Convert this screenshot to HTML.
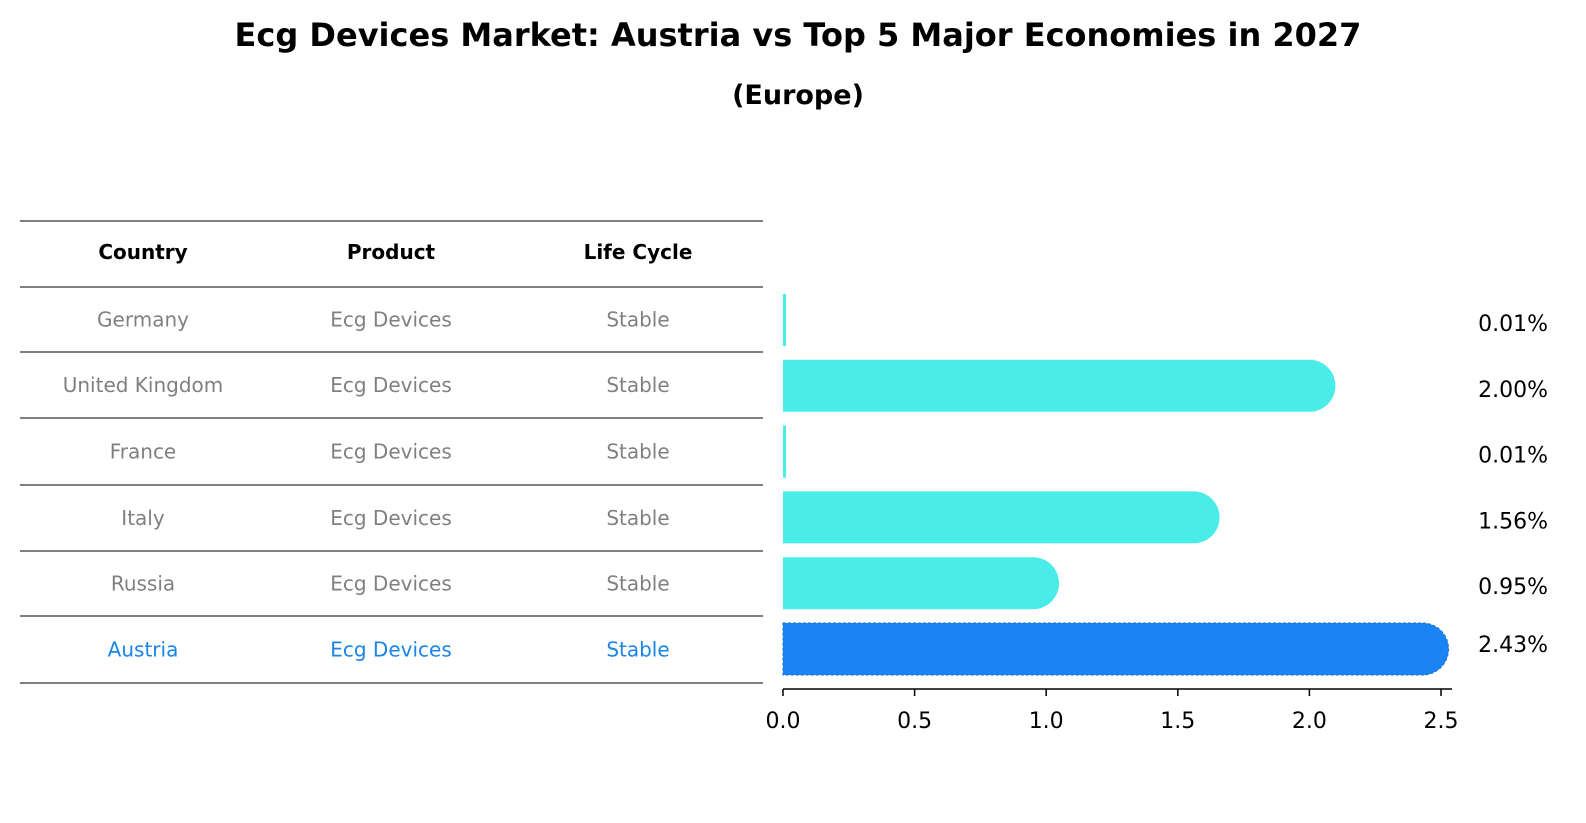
<!DOCTYPE html>
<html><head><meta charset="utf-8"><style>
body{margin:0;background:#fff;font-family:"DejaVu Sans","Liberation Sans",sans-serif;}
#wrap{position:relative;width:1586px;height:823px;overflow:hidden;}
.t{position:absolute;white-space:nowrap;}
svg text{font-family:"DejaVu Sans","Liberation Sans",sans-serif;}
</style></head><body>
<div id="wrap">
<div class="t" style="left:0;width:1596px;text-align:center;top:16px;font-size:32px;font-weight:bold;">Ecg Devices Market: Austria vs Top 5 Major Economies in 2027</div>
<div class="t" style="left:0;width:1596px;text-align:center;top:80px;font-size:27px;font-weight:bold;">(Europe)</div>
<svg id="svg" width="1586" height="823" style="position:absolute;left:0;top:0"></svg>
</div>
<script>
const countries=["Germany","United Kingdom","France","Italy","Russia","Austria"];
const products=["Ecg Devices","Ecg Devices","Ecg Devices","Ecg Devices","Ecg Devices","Ecg Devices"];
const lifecycle=["Stable","Stable","Stable","Stable","Stable","Stable"];
const values=[0.01,2.00,0.01,1.56,0.95,2.43];
const labels=["0.01%","2.00%","0.01%","1.56%","0.95%","2.43%"];
const ticks=[0,0.5,1.0,1.5,2.0,2.5];
const tickLabels=["0.0","0.5","1.0","1.5","2.0","2.5"];
const NS="http://www.w3.org/2000/svg";
const svg=document.getElementById('svg');
const x=v=>783+v*263.2;
const rowC=i=>320+i*65.8;
function mk(t,a){const e=document.createElementNS(NS,t);for(const k in a)e.setAttribute(k,a[k]);svg.appendChild(e);return e;}
const lineYs=[221,287,352,418,485,551,616,683];
lineYs.forEach((y,i)=>{const l=mk('line',{x1:20,x2:763,y1:y,y2:y,stroke:'#000','stroke-width':1});

});
const colX=[143,391,638];
["Country","Product","Life Cycle"].forEach((h,j)=>{const t=mk('text',{x:colX[j],y:259,'text-anchor':'middle','font-size':20,'font-weight':'bold',fill:'#000'});t.textContent=h;

});
countries.forEach((c,i)=>{
 const y=lineYs[i+1]+(lineYs[i+2]-lineYs[i+1])/2+7;
 const col=i===5?'#1a84e8':'#808080';
 [c,products[i],lifecycle[i]].forEach((v,j)=>{const t=mk('text',{x:colX[j],y:y,'text-anchor':'middle','font-size':20,fill:col});t.textContent=v;
 
 });
 const cy=rowC(i), h=52, r=26;
 const isA=i===5;
 const w=x(values[i])-x(0);
 let b;
 if(w<r){b=mk('rect',{x:x(0),y:cy-h/2,width:Math.max(w,3),height:h,fill:'#4aece8'});}
 else{b=mk('path',{d:`M${x(0)},${cy-h/2} H${x(values[i])} A${r},${r} 0 0 1 ${x(values[i])},${cy+h/2} H${x(0)} Z`,fill:isA?'#1a84f5':'#4aece8'});
  if(isA){b.setAttribute('stroke','#1a6fd0');b.setAttribute('stroke-dasharray','3,2');b.setAttribute('stroke-width',1);}}
 
 
 const t=mk('text',{x:1548,y:cy+8+(isA?-5:3),'text-anchor':'end','font-size':22,fill:'#000'});t.textContent=labels[i];
 
 
});
const ax=mk('line',{x1:783,x2:1452,y1:689,y2:689,stroke:'#000','stroke-width':1.5});


ticks.forEach((v,i)=>{const l=mk('line',{x1:x(v),x2:x(v),y1:689,y2:696,stroke:'#000','stroke-width':1.5});


const t=mk('text',{x:x(v),y:728,'text-anchor':'middle','font-size':22,fill:'#000'});t.textContent=tickLabels[i];

});
</script>
</body></html>
